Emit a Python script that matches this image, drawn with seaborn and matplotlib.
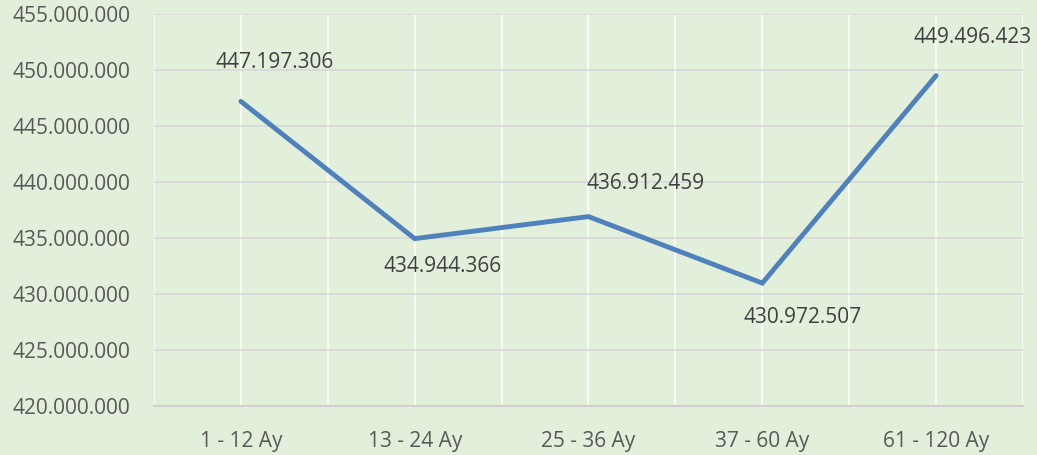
import matplotlib
matplotlib.use("Agg")
import matplotlib.pyplot as plt
import seaborn as sns
import pandas as pd
from matplotlib.ticker import FuncFormatter, MultipleLocator, FixedLocator

categories = ["1 - 12 Ay", "13 - 24 Ay", "25 - 36 Ay", "37 - 60 Ay", "61 - 120 Ay"]
values = [447197306, 434944366, 436912459, 430972507, 449496423]
# label offsets in pixels (dx, dy) relative to each point
label_offsets = [(34, 39), (28, -28), (57, 33), (40, -34), (36, 38)]

y_min, y_max, y_step = 420000000, 455000000, 5000000

bg = "#E2EFDA"
sns.set_theme(style="white")
plt.rcParams["font.family"] = ["Open Sans", "DejaVu Sans"]

fig = plt.figure(figsize=(10.37, 4.55), dpi=100, facecolor=bg)
ax = fig.add_axes([0.1485, 0.1077, 0.9865 - 0.1485, 0.9692 - 0.1077])
ax.set_facecolor(bg)

df = pd.DataFrame({"cat": categories, "val": values})
df["pos"] = range(len(categories))
sns.lineplot(data=df, x="pos", y="val", ax=ax, color="#4F81BD", linewidth=3.5,
             sort=False, zorder=3, solid_capstyle="round", solid_joinstyle="miter")

ax.set_xlim(-0.5, len(categories) - 0.5)
ax.set_ylim(y_min, y_max)
ax.yaxis.set_major_locator(MultipleLocator(y_step))
ax.yaxis.set_major_formatter(FuncFormatter(lambda v, p: f"{int(v):,}".replace(",", ".")))

ax.xaxis.set_major_locator(FixedLocator(list(range(len(categories)))))
ax.set_xticklabels(categories)
ax.xaxis.set_minor_locator(FixedLocator([i - 0.5 for i in range(len(categories) + 1)]))

ax.grid(axis="y", which="major", color="#D9D9D9", linewidth=1.3, zorder=1)
ax.grid(axis="x", which="both", color="#FFFFFF", linewidth=1.1, zorder=1)
ax.set_axisbelow(True)

for s in ["top", "right", "left"]:
    ax.spines[s].set_visible(False)
ax.spines["bottom"].set_color("#D0D0D0")
ax.spines["bottom"].set_linewidth(1.5)

ax.tick_params(axis="both", which="both", length=0)
ax.tick_params(axis="y", pad=17, labelsize=15, labelcolor="#595959")
ax.tick_params(axis="x", pad=18, labelsize=15, labelcolor="#595959")
ax.set_xlabel("")
ax.set_ylabel("")

for i, (v, (dx, dy)) in enumerate(zip(values, label_offsets)):
    ax.annotate(f"{v:,}".replace(",", "."), xy=(i, v), xytext=(dx, dy),
                textcoords="offset pixels", ha="center", va="center",
                fontsize=15, color="#404040", zorder=4, annotation_clip=False)

fig.savefig("out.png", dpi=100, facecolor=bg)
